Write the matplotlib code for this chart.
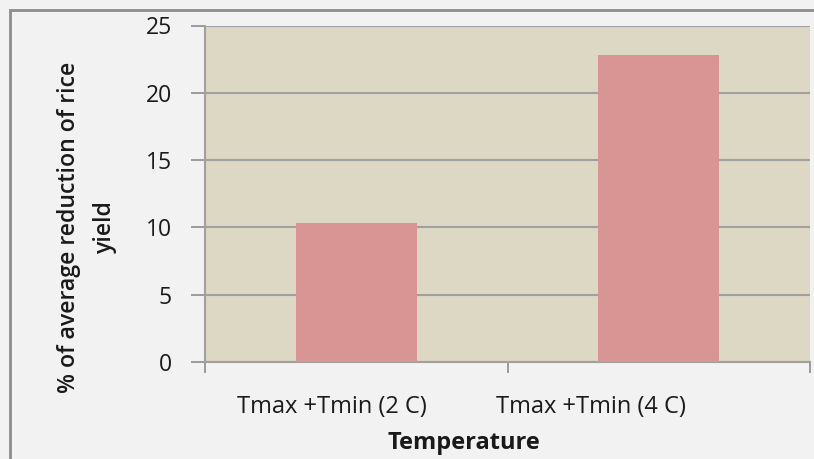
import matplotlib.pyplot as plt
from matplotlib.patches import Rectangle
from matplotlib.transforms import ScaledTranslation

# average reduction of rice yield under warming scenarios
scenarios = ["Tmax +Tmin (2 C)", "Tmax +Tmin (4 C)"]
reduction = [10.3, 22.8]
y_ticks = [0, 5, 10, 15, 20, 25]

plt.rcParams['font.family'] = ['Open Sans', 'DejaVu Sans']

fig = plt.figure(figsize=(8.14, 4.59), dpi=100)
fig.patch.set_facecolor('#f2f2f2')

# outer chart border
fig.patches.append(Rectangle((10 / 814, -0.1), 1.2, 1.1 - 10 / 459,
                             transform=fig.transFigure, fill=False,
                             edgecolor='#8c8c8c', linewidth=2.0))

ax = fig.add_axes([205 / 814, 97 / 459, 605 / 814, 336.5 / 459])
ax.set_facecolor('#ddd8c4')

x = list(range(len(scenarios)))
ax.bar(x, reduction, width=0.4, color='#d99594', zorder=3)

ax.set_xlim(-0.5, 1.5)
ax.set_ylim(0, 25)
ax.set_yticks(y_ticks)
ax.yaxis.grid(True, color='#a0a0a0', linewidth=1.5, zorder=1)

ax.set_xticks(x)
ax.set_xticklabels(scenarios, fontsize=17, color='#1a1a1a')
ax.tick_params(axis='x', which='major', length=0, pad=24)
ax.set_xticks([-0.5, 0.5, 1.5], minor=True)
ax.tick_params(axis='x', which='minor', length=8, color='#8c8c8c', width=1.2)
ax.tick_params(axis='y', length=10, color='#8c8c8c', width=1.2,
               labelsize=16.5, labelcolor='#1a1a1a', pad=14)

# category labels sit left of the bar centres
for lbl, dx in zip(ax.get_xticklabels(), [-24, -68]):
    lbl.set_transform(lbl.get_transform() + ScaledTranslation(dx / 100, 0, fig.dpi_scale_trans))

for side in ['top', 'right']:
    ax.spines[side].set_visible(False)
for side in ['left', 'bottom']:
    ax.spines[side].set_color('#a0a0a0')
    ax.spines[side].set_linewidth(1.5)

fig.text(464 / 814, 1 - 443 / 459, "Temperature", fontsize=17, fontweight='bold',
         ha='center', va='center', color='#1a1a1a')
fig.text(87 / 814, 1 - 227 / 459, "% of average reduction of rice\nyield", fontsize=16.7,
         fontweight='semibold', rotation=90, ha='center', va='center',
         multialignment='center', linespacing=1.65, color='#1a1a1a')

fig.savefig("out.png", dpi=100, facecolor=fig.get_facecolor())
